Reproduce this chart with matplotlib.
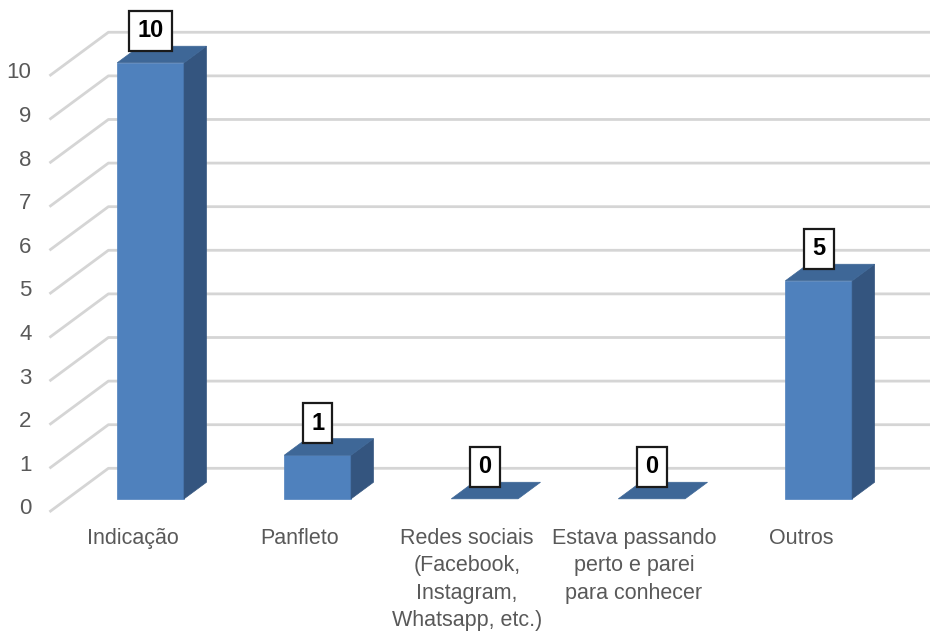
import matplotlib
matplotlib.use("Agg")
import matplotlib.pyplot as plt
from matplotlib.patches import Polygon

categories = [
    "Indicação",
    "Panfleto",
    "Redes sociais\n(Facebook,\nInstagram,\nWhatsapp, etc.)",
    "Estava passando\nperto e parei\npara conhecer",
    "Outros",
]
values = [10, 1, 0, 0, 5]
y_ticks = list(range(0, 11))

# fake 3D: a point at depth z (0 = front, 1 = back wall) is shifted by z * (DX, DY)
DX, DY = 0.353, 1.0
BAR_W = 0.40
Z_FRONT, Z_BACK = 0.30, 0.68

FACE = "#4f81bd"
SIDE = "#34557f"
TOP = "#3e6797"
GRID = "#d5d5d5"
FONT = ["Liberation Sans", "DejaVu Sans"]


def proj(x, y, z):
    return (x + z * DX, y + z * DY)


fig = plt.figure(figsize=(9.3, 6.34), dpi=100)
ax = fig.add_axes([0, 0, 1, 1])
ax.set_xlim(-0.796, 4.772)
ax.set_ylim(-2.80, 11.74)
ax.axis("off")

n = len(categories)
x_left, x_right = -0.5, n - 0.5

# side wall diagonals and back wall gridlines
for v in y_ticks:
    x0, y0 = proj(x_left, v, 0)
    x1, y1 = proj(x_left, v, 1)
    x2, _ = proj(x_right, v, 1)
    ax.plot([x0, x1, x2], [y0, y1, y1], color=GRID, lw=2, zorder=1,
            solid_capstyle="butt")
    ax.annotate(str(v), (x0, y0), xytext=(-18, 3), textcoords="offset pixels",
                ha="right", va="center", fontsize=16, family=FONT, color="#595959")

for i, (cat, val) in enumerate(zip(categories, values)):
    xl, xr = i - BAR_W / 2, i + BAR_W / 2
    front = [proj(xl, 0, Z_FRONT), proj(xr, 0, Z_FRONT),
             proj(xr, val, Z_FRONT), proj(xl, val, Z_FRONT)]
    side = [proj(xr, 0, Z_FRONT), proj(xr, 0, Z_BACK),
            proj(xr, val, Z_BACK), proj(xr, val, Z_FRONT)]
    top = [proj(xl, val, Z_FRONT), proj(xr, val, Z_FRONT),
           proj(xr, val, Z_BACK), proj(xl, val, Z_BACK)]
    if val > 0:
        ax.add_patch(Polygon(front, closed=True, fc=FACE, ec=FACE, lw=0.5, zorder=3))
        ax.add_patch(Polygon(side, closed=True, fc=SIDE, ec=SIDE, lw=0.5, zorder=3))
    ax.add_patch(Polygon(top, closed=True, fc=TOP, ec=TOP, lw=0.5, zorder=3))

    # value label above the front face
    lx, ly = proj(i, val, Z_FRONT)
    ax.annotate(str(val), (lx, ly), xytext=(0, 32), textcoords="offset pixels",
                ha="center", va="center", fontsize=17, fontweight="bold",
                family=FONT, color="black", zorder=5,
                bbox=dict(boxstyle="square,pad=0.35", fc="white", ec="#1a1a1a", lw=1.6))

    # category label at the front edge of the floor
    cx, cy = proj(i, 0, 0)
    ax.annotate(cat, (cx, cy), xytext=(0, -16), textcoords="offset pixels",
                ha="center", va="top", fontsize=15.5, family=FONT, color="#595959",
                linespacing=1.4)

fig.savefig("out.png", dpi=100)
